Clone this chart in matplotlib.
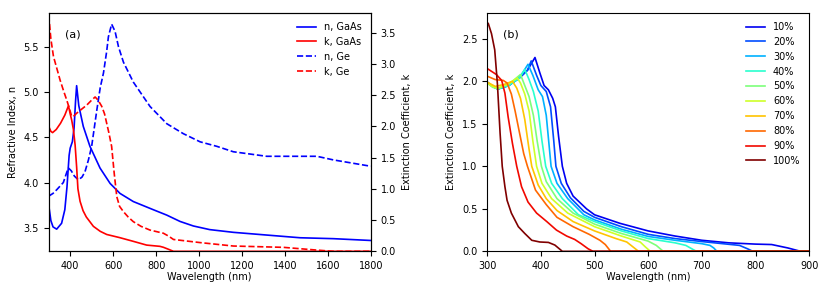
import matplotlib
matplotlib.use("Agg")
import matplotlib.pyplot as plt
import numpy as np

plt.rcParams['font.size'] = 7

# ---- panel (a): GaAs and Ge optical constants ----
n_gaas_wl = [300, 310, 320, 337, 360, 375, 385, 395, 400, 410, 418, 425, 430, 440, 461, 492, 539, 586, 632,
             694, 787, 850, 912, 974, 1050, 1160, 1315, 1471, 1626, 1800]
n_gaas = [3.75, 3.58, 3.51, 3.485, 3.55, 3.70, 3.95, 4.30, 4.38, 4.45, 4.60, 4.90, 5.07, 4.85, 4.62, 4.40, 4.16,
          3.99, 3.88, 3.79, 3.70, 3.64, 3.57, 3.52, 3.48, 3.45, 3.42, 3.39, 3.38, 3.36]

k_gaas_wl = [300, 310, 318, 335, 355, 375, 392, 400, 407, 415, 423, 430, 436, 446, 460, 475, 508, 540, 570,
             630, 694, 756, 818, 834, 860, 881, 1800]
k_gaas = [2.0, 1.92, 1.90, 1.95, 2.05, 2.18, 2.33, 2.20, 2.10, 1.95, 1.70, 1.35, 1.0, 0.80, 0.65, 0.55, 0.40,
          0.32, 0.27, 0.22, 0.16, 0.10, 0.08, 0.065, 0.03, 0.0, 0.0]

n_ge_wl = [300, 320, 337, 368, 385, 392, 405, 420, 438, 455, 469, 485, 500, 524, 540, 555, 570, 578, 593, 609,
           625, 648, 694, 772, 850, 927, 1005, 1083, 1160, 1315, 1471, 1549, 1626, 1800]
n_ge = [3.85, 3.88, 3.92, 4.0, 4.12, 4.16, 4.13, 4.07, 4.03, 4.06, 4.12, 4.25, 4.40, 4.80, 5.05, 5.21, 5.45,
        5.61, 5.75, 5.67, 5.50, 5.33, 5.11, 4.84, 4.65, 4.54, 4.45, 4.40, 4.34, 4.29, 4.29, 4.29, 4.25, 4.18]

k_ge_wl = [300, 310, 322, 340, 353, 370, 384, 395, 407, 418, 430, 455, 477, 500, 516, 530, 547, 560, 570, 580,
           593, 605, 617, 630, 648, 670, 694, 730, 772, 834, 860, 881, 1005, 1160, 1393, 1549, 1626, 1800]
k_ge = [3.78, 3.40, 3.12, 2.90, 2.74, 2.56, 2.42, 2.30, 2.16, 2.17, 2.21, 2.28, 2.34, 2.42, 2.47, 2.42, 2.32,
        2.20, 2.05, 1.90, 1.68, 1.25, 0.875, 0.72, 0.635, 0.55, 0.475, 0.40, 0.34, 0.29, 0.24, 0.19, 0.14,
        0.085, 0.064, 0.02, 0.0, 0.0]

# ---- panel (b): extinction coefficient vs. composition ----
labels_b = ['10%', '20%', '30%', '40%', '50%', '60%', '70%', '80%', '90%', '100%']

wl_10 = [300, 310, 320, 340, 360, 375, 389, 398, 406, 414, 422, 427, 433, 440, 448, 460, 485, 500, 547, 600,
         650, 700, 750, 800, 830, 860, 884, 900]
k_10 = [1.99, 1.94, 1.91, 1.95, 2.04, 2.13, 2.28, 2.10, 1.95, 1.90, 1.80, 1.70, 1.35, 1.0, 0.80, 0.65, 0.50,
        0.43, 0.33, 0.24, 0.18, 0.13, 0.10, 0.085, 0.08, 0.04, 0.0, 0.0]
wl_20 = [300, 310, 320, 340, 360, 375, 382, 392, 400, 410, 418, 424, 428, 438, 455, 480, 500, 550, 600, 650,
         700, 770, 785, 795, 900]
k_20 = [1.99, 1.94, 1.91, 1.95, 2.04, 2.13, 2.24, 2.07, 1.95, 1.88, 1.70, 1.30, 1.0, 0.80, 0.63, 0.47, 0.40,
        0.29, 0.20, 0.15, 0.115, 0.07, 0.03, 0.0, 0.0]
wl_30 = [300, 310, 320, 340, 360, 376, 385, 395, 403, 410, 416, 419, 430, 450, 480, 500, 550, 600, 650, 700,
         715, 722, 728, 900]
k_30 = [1.99, 1.94, 1.91, 1.95, 2.04, 2.20, 2.07, 1.90, 1.82, 1.60, 1.20, 1.0, 0.80, 0.62, 0.43, 0.37, 0.26,
        0.175, 0.13, 0.09, 0.07, 0.04, 0.0, 0.0]
wl_40 = [300, 310, 320, 340, 360, 370, 378, 386, 395, 402, 409, 420, 440, 470, 500, 550, 600, 650, 670, 684,
         690, 900]
k_40 = [1.98, 1.94, 1.91, 1.95, 2.04, 2.14, 2.02, 1.88, 1.65, 1.30, 1.0, 0.80, 0.62, 0.43, 0.35, 0.24, 0.15,
        0.10, 0.07, 0.02, 0.0, 0.0]
wl_50 = [300, 310, 320, 345, 362, 370, 378, 386, 393, 401, 410, 430, 460, 500, 550, 600, 615, 628, 900]
k_50 = [1.98, 1.93, 1.91, 1.99, 2.08, 1.95, 1.82, 1.60, 1.30, 1.0, 0.82, 0.62, 0.45, 0.32, 0.21, 0.12, 0.07,
        0.0, 0.0]
wl_60 = [300, 310, 320, 340, 356, 362, 370, 378, 385, 392, 402, 420, 450, 500, 550, 585, 595, 604, 900]
k_60 = [1.98, 1.94, 1.92, 1.97, 2.04, 1.98, 1.85, 1.65, 1.30, 1.0, 0.80, 0.62, 0.45, 0.29, 0.18, 0.11, 0.05,
        0.0, 0.0]
wl_70 = [300, 315, 330, 347, 355, 362, 370, 378, 383, 395, 410, 430, 460, 500, 540, 560, 572, 582, 900]
k_70 = [1.99, 1.94, 1.96, 2.0, 1.92, 1.80, 1.55, 1.20, 1.0, 0.78, 0.62, 0.48, 0.35, 0.24, 0.15, 0.11, 0.05,
        0.0, 0.0]
wl_80 = [300, 315, 330, 337, 345, 352, 360, 368, 375, 390, 410, 430, 460, 490, 510, 520, 530, 900]
k_80 = [2.06, 2.02, 2.01, 1.98, 1.85, 1.65, 1.40, 1.15, 1.0, 0.72, 0.55, 0.40, 0.29, 0.20, 0.13, 0.08, 0.0, 0.0]
wl_90 = [300, 317, 327, 333, 339, 347, 355, 364, 376, 392, 411, 429, 448, 463, 475, 488, 497, 900]
k_90 = [2.15, 2.08, 2.01, 1.86, 1.58, 1.27, 1.0, 0.76, 0.58, 0.45, 0.35, 0.25, 0.18, 0.14, 0.09, 0.03, 0.0, 0.0]
wl_100 = [300, 302, 308, 314, 319, 324, 328, 333, 337, 345, 358, 370, 383, 398, 414, 426, 440, 900]
k_100 = [2.69, 2.68, 2.56, 2.37, 1.97, 1.39, 1.0, 0.76, 0.60, 0.45, 0.29, 0.21, 0.13, 0.11, 0.105, 0.074, 0.0,
         0.0]

wl_b = [wl_10, wl_20, wl_30, wl_40, wl_50, wl_60, wl_70, wl_80, wl_90, wl_100]
k_b = [k_10, k_20, k_30, k_40, k_50, k_60, k_70, k_80, k_90, k_100]

fig = plt.figure(figsize=(8.3, 2.95), dpi=100)
ax1 = fig.add_axes([0.0587, 0.148, 0.388, 0.807])
ax2 = ax1.twinx()
axb = fig.add_axes([0.587, 0.148, 0.388, 0.807])

lw = 1.2
l1, = ax1.plot(n_gaas_wl, n_gaas, 'b-', lw=lw, label='n, GaAs')
l3, = ax1.plot(n_ge_wl, n_ge, 'b--', lw=lw, label='n, Ge')
l2, = ax2.plot(k_gaas_wl, k_gaas, 'r-', lw=lw, label='k, GaAs')
l4, = ax2.plot(k_ge_wl, k_ge, 'r--', lw=lw, label='k, Ge')

ax1.set_xlim(300, 1800)
ax1.set_ylim(3.24, 5.87)
ax2.set_ylim(0, 3.81)
ax1.set_yticks([3.5, 4.0, 4.5, 5.0, 5.5])
ax2.set_yticks(np.arange(0, 3.6, 0.5))
ax1.set_xlabel('Wavelength (nm)', labelpad=1)
ax1.set_ylabel('Refractive Index, n')
ax2.set_ylabel('Extinction Coefficient, k')
ax1.text(0.05, 0.9, '(a)', transform=ax1.transAxes, fontsize=8)
ax2.legend(handles=[l1, l2, l3, l4], loc='upper right', frameon=False)

colors = plt.cm.jet(np.linspace(0.1, 1.0, len(labels_b)))
for wl, k, lab, c in zip(wl_b, k_b, labels_b, colors):
    axb.plot(wl, k, color=c, lw=lw, label=lab)
axb.set_xlim(300, 900)
axb.set_ylim(0, 2.8)
axb.set_xlabel('Wavelength (nm)', labelpad=1)
axb.set_ylabel('Extinction Coefficient, k')
axb.text(0.05, 0.9, '(b)', transform=axb.transAxes, fontsize=8)
axb.legend(loc='upper right', frameon=False)

fig.savefig('out.png', dpi=100)
